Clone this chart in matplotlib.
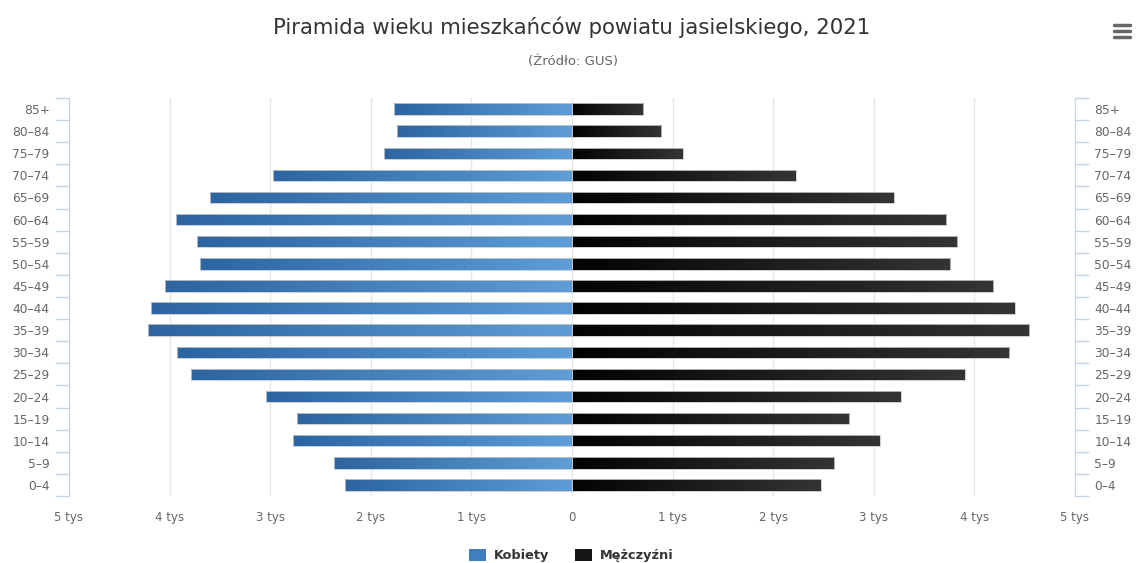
import matplotlib
matplotlib.use("Agg")
import matplotlib.pyplot as plt
import numpy as np
from matplotlib.lines import Line2D
from matplotlib.patches import Rectangle
from matplotlib.colors import LinearSegmentedColormap

plt.rcParams['font.family'] = ['DejaVu Sans']

categories = ['0–4', '5–9', '10–14', '15–19', '20–24', '25–29', '30–34', '35–39',
              '40–44', '45–49', '50–54', '55–59', '60–64', '65–69', '70–74',
              '75–79', '80–84', '85+']
women = [2255, 2365, 2775, 2735, 3040, 3790, 3930, 4215, 4180, 4050,
         3700, 3730, 3940, 3600, 2970, 1870, 1740, 1770]
men = [2475, 2605, 3060, 2755, 3270, 3905, 4345, 4545, 4400, 4185,
       3760, 3830, 3720, 3200, 2225, 1100, 885, 706]
xticks = [-5000, -4000, -3000, -2000, -1000, 0, 1000, 2000, 3000, 4000, 5000]
xticklabels = ['5 tys', '4 tys', '3 tys', '2 tys', '1 tys', '0',
               '1 tys', '2 tys', '3 tys', '4 tys', '5 tys']

W, H = 1137, 563
fig = plt.figure(figsize=(W / 100, H / 100), dpi=100)
ax = fig.add_axes([69 / W, 1 - 496 / H, (1075 - 69) / W, (496 - 98) / H])

y = np.arange(len(categories))
c_w = '#3f7fbf'
c_m = '#151515'
cmap_w = LinearSegmentedColormap.from_list('w', ['#2c65a0', '#5e9dd7'])
cmap_m = LinearSegmentedColormap.from_list('m', ['#030303', '#343434'])

bars_w = ax.barh(y, [-v for v in women], height=0.52, color='none', edgecolor='#c8c8c8',
                 linewidth=0.6, zorder=4)
bars_m = ax.barh(y, men, height=0.52, color='none', edgecolor='#c8c8c8',
                 linewidth=0.6, zorder=4)
grad = np.linspace(0, 1, 256).reshape(1, -1)
for bars, cmap in ((bars_w, cmap_w), (bars_m, cmap_m)):
    for b in bars:
        x0, yb = b.get_x(), b.get_y()
        w, h = b.get_width(), b.get_height()
        xa, xb = min(x0, x0 + w), max(x0, x0 + w)
        im = ax.imshow(grad, extent=[xa, xb, yb, yb + h], cmap=cmap, aspect='auto',
                       zorder=3, interpolation='bilinear')
        im.set_clip_path(b)

ax.set_xlim(-5000, 5000)
ax.set_ylim(-0.5, len(categories) - 0.5)
ax.set_xticks(xticks)
ax.set_xticklabels(xticklabels)
ax.tick_params(axis='x', length=0, pad=11, labelsize=8.5, labelcolor='#666666')
for xv in xticks:
    ax.axvline(xv, color='#e6e6e6', linewidth=1, zorder=0)

axis_c = '#c4d3e6'
for s in ['top', 'bottom', 'right']:
    ax.spines[s].set_visible(False)
ax.spines['left'].set_color(axis_c)

bounds = np.arange(-0.5, len(categories), 1.0)
ax.set_yticks(y)
ax.set_yticklabels(categories)
ax.set_yticks(bounds, minor=True)
ax.tick_params(axis='y', which='major', length=0, pad=14, labelsize=8.8, labelcolor='#666666')
ax.tick_params(axis='y', which='minor', length=10, color=axis_c, width=1)

ax2 = ax.twinx()
ax2.set_ylim(ax.get_ylim())
for s in ['top', 'bottom', 'left']:
    ax2.spines[s].set_visible(False)
ax2.spines['right'].set_color(axis_c)
ax2.set_yticks(y)
ax2.set_yticklabels(categories)
ax2.set_yticks(bounds, minor=True)
ax2.tick_params(axis='y', which='major', length=0, pad=14, labelsize=8.8, labelcolor='#666666')
ax2.tick_params(axis='y', which='minor', length=10, color=axis_c, width=1)

fig.text(572 / W, 1 - 27 / H, 'Piramida wieku mieszkańców powiatu jasielskiego, 2021',
         ha='center', va='center', fontsize=15.3, color='#333333')
fig.text(573 / W, 1 - 61 / H, '(Źródło: GUS)', ha='center', va='center',
         fontsize=9.5, color='#666666')

# legend
fig.patches.append(Rectangle((469 / W, 1 - 561 / H), 17 / W, 12 / H, transform=fig.transFigure,
                             facecolor=c_w, edgecolor='none'))
fig.text(494 / W, 1 - 555 / H, 'Kobiety', ha='left', va='center', fontsize=9.3,
         fontweight='bold', color='#333333')
fig.patches.append(Rectangle((575 / W, 1 - 561 / H), 17 / W, 12 / H, transform=fig.transFigure,
                             facecolor=c_m, edgecolor='none'))
fig.text(600 / W, 1 - 555 / H, 'Mężczyźni', ha='left', va='center', fontsize=9.3,
         fontweight='bold', color='#333333')

# menu icon
for yy in (25, 31, 37):
    fig.lines.append(Line2D([1114 / W, 1130 / W], [1 - yy / H, 1 - yy / H], transform=fig.transFigure,
                            color='#666666', linewidth=2.5, solid_capstyle='round'))

fig.savefig('out.png', dpi=100)
